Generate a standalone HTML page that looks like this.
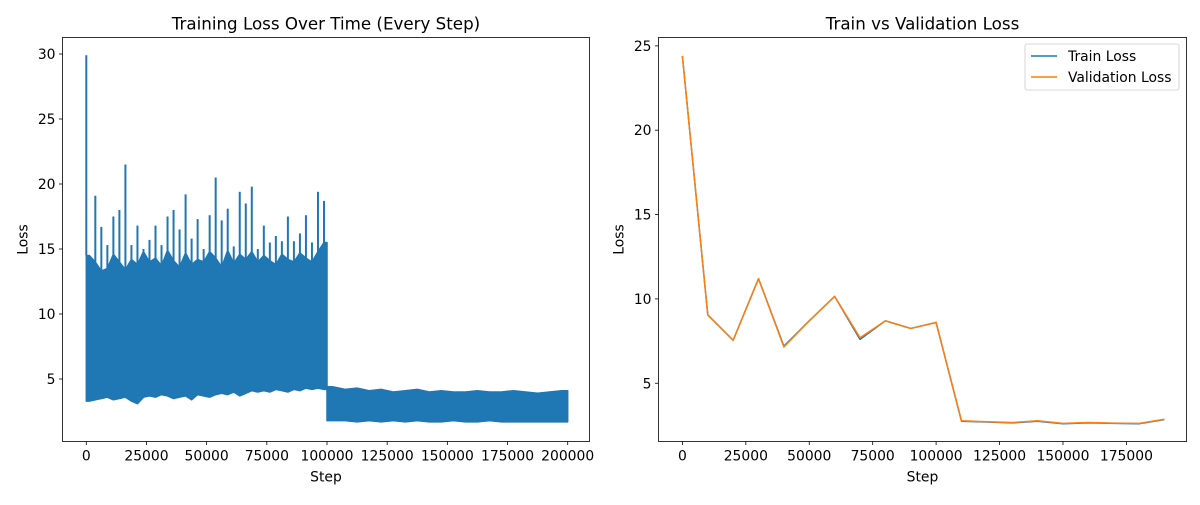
<!DOCTYPE html>
<html><head><meta charset="utf-8"><style>
body{margin:0;background:#fff}
text{font-family:"DejaVu Sans","Liberation Sans",sans-serif;fill:#000}
</style></head><body>
<svg id="svg" width="1200" height="500" viewBox="0 0 1200 500" xmlns="http://www.w3.org/2000/svg">
<rect width="1200" height="500" fill="#fff"/>
<g id="left"></g>
<g id="right"></g>
</svg>
<script>
// Left chart: per-chunk envelope of training loss (chunk = 2500 steps, first 100k; 5000 steps after)
const leftChunkStepsA = 2500;
const leftPeaks = [29.9,19.1,16.7,15.3,17.5,18.0,21.5,15.3,16.8,15.0,15.7,16.8,15.3,17.5,18.0,16.5,19.2,15.8,17.3,15.0,17.6,20.5,17.2,18.1,15.2,19.4,18.5,19.8,15.0,16.8,15.5,16.0,15.6,17.5,15.6,16.2,17.6,15.5,19.4,18.7];
const leftDense = [14.5,14.0,13.3,13.5,14.6,14.0,13.4,14.2,13.8,14.8,14.0,14.3,13.7,14.9,14.1,13.6,14.7,13.8,14.2,14.0,14.8,14.3,13.6,14.9,13.9,14.6,14.2,14.8,14.0,14.5,14.1,13.8,14.6,14.2,14.0,14.7,14.3,14.0,14.8,15.5];
const leftMins = [3.3,3.4,3.5,3.6,3.4,3.5,3.6,3.3,3.1,3.6,3.7,3.6,3.8,3.7,3.5,3.6,3.7,3.4,3.8,3.7,3.6,3.8,3.9,3.8,4.0,3.7,3.9,4.1,4.0,4.1,4.0,4.2,4.1,4.0,4.2,4.1,4.3,4.2,4.3,4.2];
const leftChunkStepsB = 5000;
const leftTopB = [4.4,4.2,4.3,4.1,4.2,4.0,4.1,4.2,4.0,4.1,4.0,4.0,4.1,4.0,4.0,4.1,4.0,3.9,4.0,4.1];
const leftMinB = [1.8,1.8,1.7,1.8,1.7,1.8,1.7,1.8,1.7,1.7,1.8,1.7,1.7,1.8,1.7,1.7,1.7,1.7,1.7,1.7];
const leftXTicks = [0,25000,50000,75000,100000,125000,150000,175000,200000];
const leftYTicks = [5,10,15,20,25,30];
// Right chart
const rightSteps = [0,10000,20000,30000,40000,50000,60000,70000,80000,90000,100000,110000,120000,130000,140000,150000,160000,170000,180000,190000];
const trainLoss = [24.4,9.05,7.55,11.2,7.2,8.7,10.15,7.6,8.7,8.25,8.6,2.75,2.7,2.65,2.75,2.6,2.65,2.62,2.6,2.85];
const valLoss =   [24.4,9.05,7.55,11.2,7.15,8.7,10.15,7.7,8.7,8.25,8.6,2.78,2.72,2.67,2.78,2.62,2.67,2.64,2.62,2.87];
const rightXTicks = [0,25000,50000,75000,100000,125000,150000,175000];
const rightYTicks = [5,10,15,20,25];

const NS="http://www.w3.org/2000/svg";
function mk(parent,tag,attrs,txt){const e=document.createElementNS(NS,tag);for(const k in attrs)e.setAttribute(k,attrs[k]);if(txt!==undefined)e.textContent=txt;parent.appendChild(e);return e;}

function axes(g,box,xs,ys,xt,yt,title){
  const [x0,y0,x1,y1]=box;
  for(const t of xt){const x=xs(t);
    const l=mk(g,'line',{x1:x,x2:x,y1:y1,y2:y1+3.5,stroke:'#000','stroke-width':0.8});
    
    const tx=mk(g,'text',{x:x,y:y1+19,'font-size':13.9,'text-anchor':'middle'},String(t));
    }
  for(const t of yt){const y=ys(t);
    const l=mk(g,'line',{x1:x0-3.5,x2:x0,y1:y,y2:y,stroke:'#000','stroke-width':0.8});
    
    const tx=mk(g,'text',{x:x0-7,y:y+5,'font-size':13.9,'text-anchor':'end'},String(t));
    }
  const r=mk(g,'rect',{x:x0,y:y0,width:x1-x0,height:y1-y0,fill:'none',stroke:'#000','stroke-width':0.8});
  
  const t=mk(g,'text',{x:(x0+x1)/2,y:y0-8,'font-size':16.7,'text-anchor':'middle'},title);
  
  const xl=mk(g,'text',{x:(x0+x1)/2,y:y1+40,'font-size':13.9,'text-anchor':'middle'},'Step');
  
  const cy=(y0+y1)/2, lx=x0-35;
  const yl=mk(g,'text',{x:lx,y:cy,'font-size':13.9,'text-anchor':'middle',transform:`rotate(-90 ${lx} ${cy})`},'Loss');
  
}

// LEFT
(function(){
  const g=document.getElementById('left');
  const box=[62.5,37.5,589.5,441.5];
  const xs=s=>86.3+s*(481.4/200000), ys=v=>444-v*13;
  const c='#1f77b4';
  let top=[],bot=[];
  const offB=leftPeaks.length*leftChunkStepsA;
  top.push([xs(0),ys(leftDense[0])]);
  leftDense.forEach((v,i)=>{top.push([xs((i+0.5)*leftChunkStepsA),ys(v)]);});
  top.push([xs(offB),ys(leftDense[leftDense.length-1])]);
  top.push([xs(offB),ys(leftTopB[0])]);
  leftTopB.forEach((v,i)=>{top.push([xs(offB+(i+0.5)*leftChunkStepsB),ys(v)]);});
  top.push([xs(offB+leftTopB.length*leftChunkStepsB),ys(leftTopB[leftTopB.length-1])]);
  bot.push([xs(0),ys(leftMins[0])]);
  leftMins.forEach((v,i)=>{bot.push([xs((i+0.5)*leftChunkStepsA),ys(v)]);});
  bot.push([xs(offB),ys(leftMins[leftMins.length-1])]);
  bot.push([xs(offB),ys(leftMinB[0])]);
  leftMinB.forEach((v,i)=>{bot.push([xs(offB+(i+0.5)*leftChunkStepsB),ys(v)]);});
  bot.push([xs(offB+leftMinB.length*leftChunkStepsB),ys(leftMinB[leftMinB.length-1])]);
  const pts=top.concat(bot.reverse()).map(p=>p.join(',')).join(' ');
  const band=mk(g,'polygon',{points:pts,fill:c,stroke:c,'stroke-width':1.5,'stroke-linejoin':'round'});
  
  leftPeaks.forEach((v,i)=>{
    const x=xs(i*leftChunkStepsA+leftChunkStepsA*(i===0?0:0.5));
    const l=mk(g,'line',{x1:x,x2:x,y1:ys(leftDense[i]),y2:ys(v),stroke:c,'stroke-width':2});
    
  });
  axes(g,box,xs,ys,leftXTicks,leftYTicks,'Training Loss Over Time (Every Step)');
})();

// RIGHT
(function(){
  const g=document.getElementById('right');
  const box=[658.5,37.5,1186.5,441.5];
  const xs=s=>682.4+s*(444/175000), ys=v=>467.6-v*16.87;
  const mkLine=(arr,col,name)=>{
    const p=mk(g,'polyline',{points:rightSteps.map((s,i)=>xs(s)+','+ys(arr[i])).join(' '),fill:'none',stroke:col,'stroke-width':1.5,'stroke-linejoin':'round'});
    
  };
  mkLine(trainLoss,'#1f77b4','train-loss-line');
  mkLine(valLoss,'#ff7f0e','validation-loss-line');
  axes(g,box,xs,ys,rightXTicks,rightYTicks,'Train vs Validation Loss');
  const lg=mk(g,'g',{});
  
  mk(lg,'rect',{x:1025,y:44,width:154,height:46,rx:2,fill:'#fff',stroke:'#ccc','stroke-width':0.8});
  const e1=mk(lg,'line',{x1:1031,x2:1057,y1:56,y2:56,stroke:'#1f77b4','stroke-width':1.5});
  
  mk(lg,'text',{x:1068,y:61,'font-size':13.9},'Train Loss');
  const e2=mk(lg,'line',{x1:1031,x2:1057,y1:77,y2:77,stroke:'#ff7f0e','stroke-width':1.5});
  
  mk(lg,'text',{x:1068,y:82,'font-size':13.9},'Validation Loss');
})();
</script>
</body></html>
